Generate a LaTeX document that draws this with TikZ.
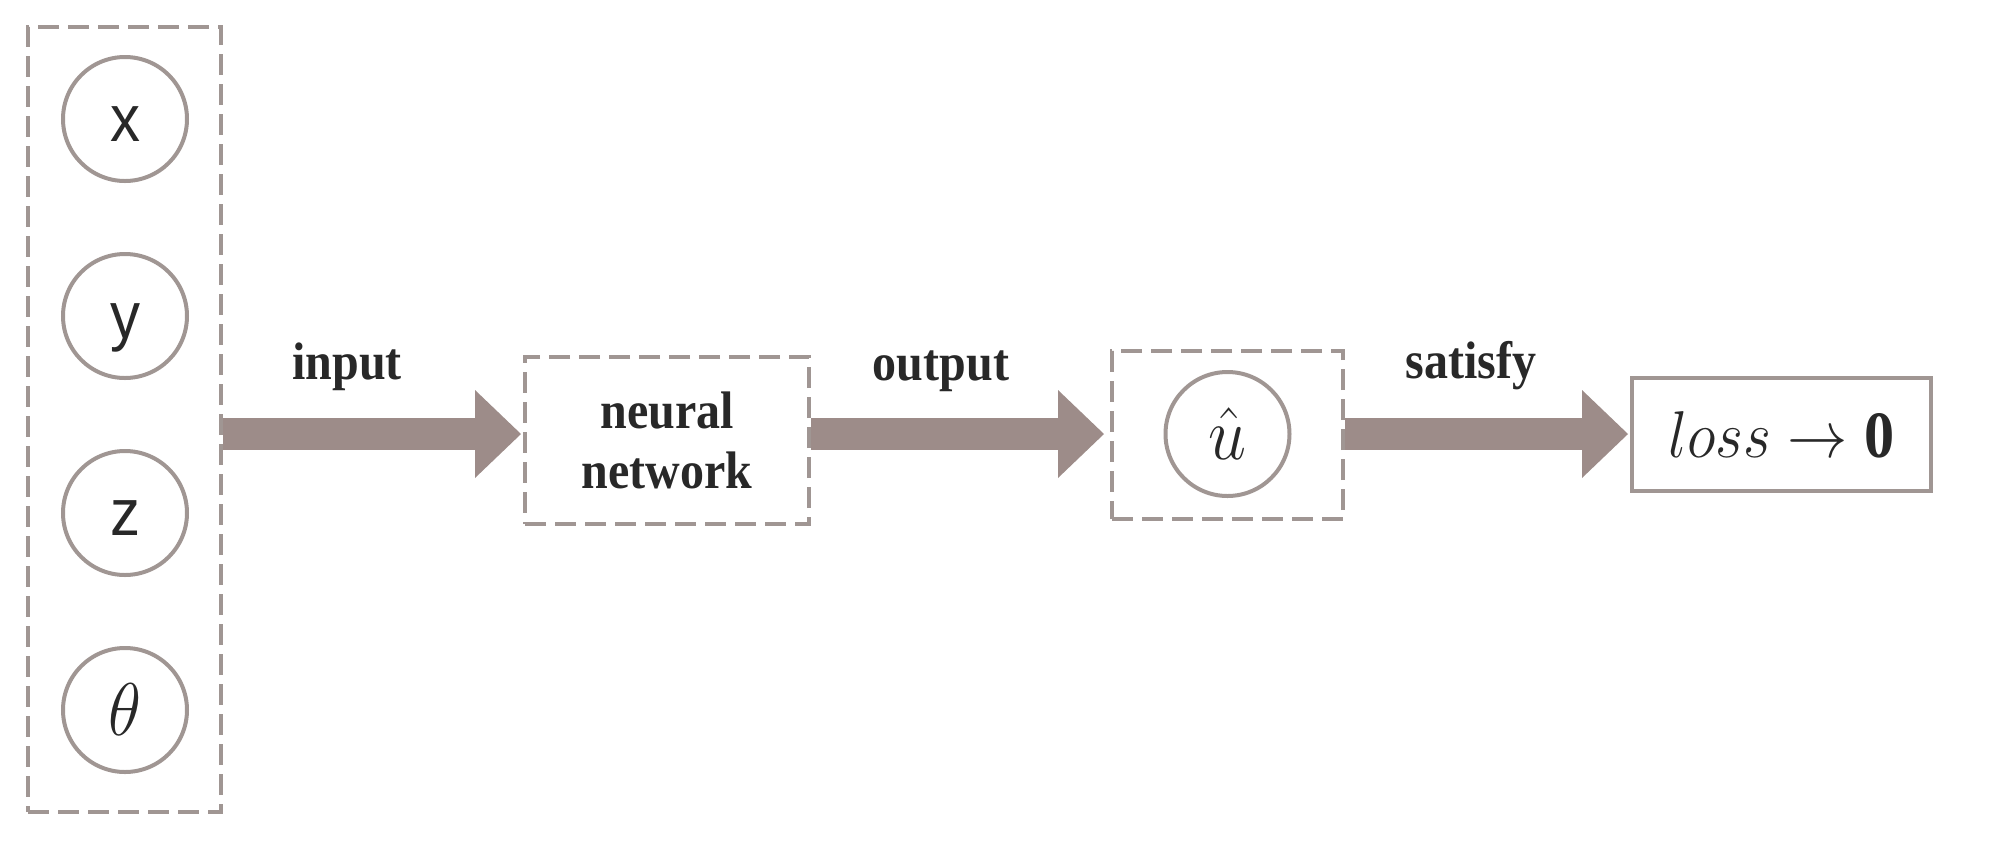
\documentclass[tikz,border=0pt]{standalone}
\usepackage{fontspec}
\setmainfont{Liberation Serif}
\newfontfamily\arialf{Liberation Sans}
\usetikzlibrary{arrows.meta}
\definecolor{edgegray}{RGB}{160,150,147}
\definecolor{arrowfill}{RGB}{157,140,137}
\definecolor{ink}{RGB}{40,40,40}
\newcommand{\vstr}[1]{\scalebox{1}[1.1]{#1}}
\newcommand{\bigmath}[1]{\scalebox{1.37}[1.5]{#1}}
\newcommand{\lossmath}[1]{\scalebox{1.21}[1.33]{#1}}
\begin{document}
\begin{tikzpicture}[x=0.5pt,y=-0.5pt,
  dashbox/.style={draw=edgegray, line width=2pt, dash pattern=on 10.5pt off 4.5pt, rectangle, inner sep=0pt},
  circlebase/.style={draw=edgegray, line width=2pt, circle, minimum size=62pt, inner sep=0pt, text=ink},
  varcircle/.style={circlebase, font=\arialf\fontsize{30}{34}\selectfont, text height=22pt, text depth=0pt},
  mathcircle/.style={circlebase, font=\fontsize{24.88}{30}\selectfont},
  flowarrow/.style={draw=arrowfill, line width=16pt, line cap=butt, shorten >=1pt, -{Triangle[length=23pt,width=44pt,line width=0pt]}},
  flowlabel/.style={anchor=base, text=ink, font=\bfseries\fontsize{24}{30}\selectfont, inner sep=0pt},
]
\useasboundingbox (0,0) rectangle (1999,842);
\coordinate (ay) at (0,434);
% input group
\node[dashbox, minimum width=96.5pt, minimum height=392.5pt] (inputs) at (124.5,419.5) {};
\node[varcircle] (vx) at (125,119) {\vstr{x}};
\node[varcircle] (vy) at (125,316) {\vstr{y}};
\node[varcircle] (vz) at (125,513) {\vstr{z}};
\node[mathcircle] (vt) at (125,710) {\bigmath{$\theta$}};
% neural network
\node[dashbox, minimum width=142pt, minimum height=83.5pt, align=center, text=ink, font=\bfseries\fontsize{24}{30}\selectfont] (nn) at (667,440.5) {\vstr{neural}\\\vstr{network}};
% output u hat
\node[dashbox, minimum width=115.5pt, minimum height=84pt] (ubox) at (1227.5,435) {};
\node[mathcircle] (uhat) at (1227.5,434) {\bigmath{$\hat{u}$}};
% loss
\node[draw=edgegray, line width=2pt, minimum width=149.5pt, minimum height=56.5pt, inner sep=0pt, text=ink, font=\fontsize{24.88}{30}\selectfont] (loss) at (1781.5,434.5) {\lossmath{$loss\rightarrow\mathbf{0}$}};
% arrows
\draw[flowarrow] (inputs.east |- ay) -- (nn.west |- ay);
\draw[flowarrow, shorten >=3pt] (nn.east |- ay) -- (ubox.west |- ay);
\draw[flowarrow] (ubox.east |- ay) -- (loss.west |- ay);
% labels
\node[flowlabel] (lin) at (347,379) {\vstr{input}};
\node[flowlabel] (lout) at (941,380) {\vstr{output}};
\node[flowlabel] (lsat) at (1471,378) {\vstr{satisfy}};
\end{tikzpicture}
\end{document}
